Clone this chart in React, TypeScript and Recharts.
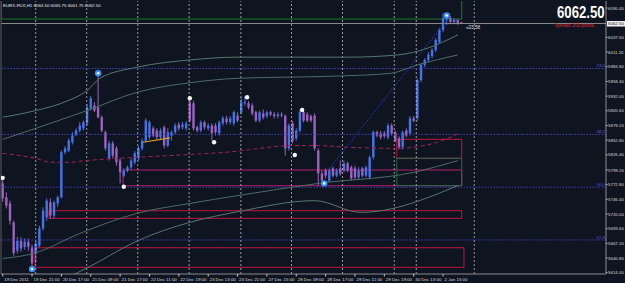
import { ComposedChart, Bar, Line, XAxis, YAxis, ReferenceLine, ReferenceArea, Scatter } from "recharts";

const opens = [
  5775, 5750, 5739, 5705, 5654, 5672, 5661, 5670, 5660, 5649,
  5663, 5694, 5714, 5741, 5717, 5739, 5750, 5831, 5834, 5849,
  5863, 5870, 5874, 5883, 5910, 5915, 5912, 5894, 5867, 5820,
  5847, 5838, 5816, 5789, 5798, 5804, 5813, 5820, 5838, 5852,
  5858, 5874, 5870, 5858, 5876, 5843, 5861, 5867, 5881, 5876,
  5874, 5921, 5919, 5876, 5870, 5885, 5874, 5879, 5879, 5865,
  5883, 5892, 5885, 5883, 5897, 5903, 5919, 5919, 5915, 5903,
  5888, 5901, 5896, 5903, 5899, 5896, 5899, 5896, 5838, 5883,
  5856, 5870, 5903, 5899, 5896, 5897, 5834, 5793, 5798, 5780,
  5802, 5789, 5802, 5798, 5811, 5804, 5802, 5786, 5802, 5789,
  5786, 5822, 5867, 5865, 5865, 5858, 5879, 5867, 5856, 5840,
  5870, 5865, 5892, 5892, 5961, 5988, 5997, 6004, 6015, 6029,
  6051, 6070, 6072, 6065, 6069, 6064.5,
];
const closes = [
  5748, 5735, 5708, 5650, 5672, 5658, 5670, 5661, 5631, 5667,
  5694, 5726, 5744, 5717, 5741, 5750, 5831, 5838, 5852, 5861,
  5870, 5879, 5885, 5912, 5928, 5906, 5894, 5870, 5838, 5847,
  5825, 5813, 5795, 5798, 5804, 5816, 5829, 5838, 5852, 5888,
  5885, 5861, 5858, 5870, 5843, 5867, 5867, 5879, 5874, 5881,
  5883, 5888, 5874, 5870, 5885, 5876, 5879, 5865, 5867, 5885,
  5892, 5885, 5892, 5903, 5888, 5921, 5921, 5912, 5901, 5888,
  5903, 5894, 5903, 5899, 5896, 5899, 5897, 5838, 5879, 5852,
  5870, 5903, 5888, 5888, 5888, 5838, 5793, 5780, 5789, 5798,
  5789, 5798, 5793, 5811, 5798, 5784, 5786, 5798, 5789, 5804,
  5822, 5867, 5861, 5858, 5860, 5879, 5865, 5852, 5840, 5867,
  5861, 5892, 5888, 5961, 5988, 5997, 6006, 6015, 6033, 6051,
  6072, 6074, 6065, 6069, 6063, 6062.5,
];
const highs = [
  5784, 5759, 5744, 5708, 5679, 5678, 5676, 5676, 5665, 5672,
  5699, 5732, 5748, 5748, 5744, 5753, 5834, 5842, 5856, 5867,
  5874, 5885, 5888, 5917, 5932, 5921, 5971, 5897, 5870, 5852,
  5851, 5842, 5820, 5802, 5807, 5820, 5833, 5842, 5856, 5892,
  5888, 5878, 5874, 5874, 5879, 5874, 5870, 5883, 5885, 5885,
  5887, 5924, 5923, 5879, 5888, 5888, 5883, 5883, 5883, 5888,
  5896, 5896, 5896, 5906, 5903, 5930, 5932, 5923, 5919, 5906,
  5906, 5908, 5906, 5906, 5903, 5903, 5903, 5899, 5883, 5887,
  5874, 5908, 5906, 5903, 5899, 5901, 5838, 5798, 5802, 5802,
  5805, 5802, 5816, 5816, 5814, 5807, 5807, 5804, 5805, 5807,
  5825, 5870, 5870, 5869, 5869, 5883, 5883, 5870, 5860, 5870,
  5874, 5896, 5896, 5964, 5991, 6000, 6011, 6018, 6036, 6054,
  6081, 6081, 6076, 6072, 6070, 6065.75,
];
const lows = [
  5742, 5730, 5701, 5645, 5649, 5652, 5656, 5654, 5622, 5632,
  5660, 5690, 5708, 5712, 5712, 5733, 5748, 5827, 5831, 5845,
  5860, 5867, 5870, 5879, 5906, 5903, 5892, 5867, 5834, 5816,
  5820, 5807, 5775, 5786, 5795, 5800, 5809, 5816, 5834, 5849,
  5854, 5858, 5854, 5854, 5838, 5840, 5852, 5863, 5870, 5872,
  5870, 5885, 5870, 5867, 5867, 5872, 5870, 5852, 5861, 5861,
  5879, 5881, 5881, 5879, 5885, 5899, 5915, 5908, 5897, 5885,
  5885, 5890, 5892, 5896, 5892, 5892, 5894, 5825, 5834, 5847,
  5852, 5867, 5885, 5885, 5885, 5834, 5771, 5773, 5784, 5777,
  5786, 5786, 5789, 5795, 5795, 5780, 5782, 5782, 5786, 5786,
  5782, 5818, 5858, 5854, 5856, 5854, 5861, 5849, 5836, 5836,
  5858, 5861, 5885, 5888, 5957, 5984, 5993, 6000, 6011, 6026,
  6047, 6060, 6061, 6061, 6060, 6061.75,
];

// envelope / band indicators, sampled at bar index
const bandUpperOuter = [
  { i: 0, v: 5894 }, { i: 9, v: 5906 }, { i: 17.5, v: 5923 }, { i: 23, v: 5942 },
  { i: 26.5, v: 5964 }, { i: 36.7, v: 5984 }, { i: 51, v: 5997 }, { i: 64, v: 6002 },
  { i: 80, v: 6002 }, { i: 94, v: 6002 }, { i: 107.6, v: 6006 }, { i: 115.7, v: 6018 }, { i: 124, v: 6042 },
];
const bandUpperInner = [
  { i: 0, v: 5854 }, { i: 23, v: 5906 }, { i: 36.7, v: 5939 }, { i: 51, v: 5956 },
  { i: 64, v: 5964 }, { i: 91, v: 5968 }, { i: 105.7, v: 5973 }, { i: 113, v: 5988 }, { i: 124, v: 6006 },
];
const bandLowerInner = [
  { i: 0, v: 5640 }, { i: 8.4, v: 5649 }, { i: 21, v: 5685 }, { i: 36.5, v: 5721 },
  { i: 51, v: 5739 }, { i: 64, v: 5753 }, { i: 86, v: 5775 }, { i: 112, v: 5795 }, { i: 124, v: 5816 },
];
const bandLowerOuter = [
  { i: 0, v: 5560 }, { i: 15.7, v: 5600 }, { i: 23, v: 5623 }, { i: 36.8, v: 5672 },
  { i: 51, v: 5705 }, { i: 64, v: 5724 }, { i: 85, v: 5744 }, { i: 97.6, v: 5723 }, { i: 124, v: 5771 },
];
const movingAvg = [
  { i: 0, v: 5829 }, { i: 9, v: 5820 }, { i: 13, v: 5813 }, { i: 18.4, v: 5813 },
  { i: 22.7, v: 5816 }, { i: 26.5, v: 5818 }, { i: 36.5, v: 5822 }, { i: 51, v: 5827 },
  { i: 64, v: 5833 }, { i: 70, v: 5838 }, { i: 78, v: 5843 }, { i: 86, v: 5843 },
  { i: 94, v: 5840 }, { i: 107.6, v: 5838 }, { i: 113, v: 5841 }, { i: 118.4, v: 5849 }, { i: 124, v: 5864 },
];

const whiteDots = [
  { i: 0, v: 5785 }, { i: 33, v: 5769 }, { i: 51, v: 5928 }, { i: 57.6, v: 5849 },
  { i: 66.6, v: 5930 }, { i: 79.6, v: 5826 }, { i: 81.6, v: 5907 },
];
const blueDots = [
  { i: 8, v: 5621 }, { i: 26, v: 5973 }, { i: 87.6, v: 5775 }, { i: 121, v: 6077 },
];

const timeTicks = [0, 8, 16, 24, 32, 40, 48, 56, 64, 72, 80, 88, 96, 104, 112, 120];
const timeLabels = [
  "19 Dec 2011", "19 Dec 21:00", "20 Dec 17:00", "21 Dec 09:00", "21 Dec 17:00", "22 Dec 11:00",
  "22 Dec 19:00", "23 Dec 13:00", "23 Dec 21:00", "27 Dec 15:00", "28 Dec 09:00", "28 Dec 17:00",
  "29 Dec 11:00", "29 Dec 19:00", "30 Dec 13:00", "2 Jan 15:00",
];
const priceTicks = [
  6090.4, 6037.6, 6011.2, 5984.8, 5958.4, 5932.0, 5905.6, 5879.2, 5852.8, 5826.4,
  5799.2, 5772.8, 5746.4, 5720.0, 5693.6, 5667.2, 5640.8, 5614.4,
];
const gridBars = [9, 22.9, 36.8, 50.8, 64.9, 78.7, 92.6, 106.7, 112.7, 128.5];
const fibLevels = [
  { v: 5981.7, label: "23.6" },
  { v: 5863.2, label: "38.2" },
  { v: 5768.2, label: "50.0" },
  { v: 5673.3, label: "61.8" },
];
const bid = 6062.5;

const BG = "#0e1420";
const UP = "#4574e6";
const DOWN = "#9c62bf";
const FONT = "'Liberation Sans', Arial, sans-serif";

const candles = opens.map((o, i) => ({
  i,
  open: o,
  close: closes[i],
  high: highs[i],
  low: lows[i],
  range: [lows[i], highs[i]],
}));

function Candle(props: any) {
  const { x, y, width, height, payload } = props;
  const { open, close, high, low } = payload;
  const top = Math.min(y, y + height);
  const h = Math.abs(height);
  const k = high === low ? 0 : h / (high - low);
  const yo = top + (high - open) * k;
  const yc = top + (high - close) * k;
  const col = close >= open ? UP : DOWN;
  const cx = x + width / 2;
  return (
    <g>
      <line x1={cx} x2={cx} y1={top} y2={top + h} stroke={col} strokeWidth={1} />
      <rect x={cx - 1.2} y={Math.min(yo, yc)} width={2.4} height={Math.max(Math.abs(yc - yo), 1)} fill={col} />
    </g>
  );
}

function TimeTick(props: any) {
  const { x, y, payload } = props;
  const idx = timeTicks.indexOf(payload.value);
  return (
    <g>
      <line x1={x} x2={x} y1={y} y2={y + 2.5} stroke="#c8c8c8" />
      <text x={x + 1.5} y={y + 6.8} fontSize={4.4} fill="#d8d8d8" fontFamily={FONT}>
        {timeLabels[idx]}
      </text>
    </g>
  );
}

function PriceTick(props: any) {
  const { x, y, payload } = props;
  return (
    <g>
      <line x1={x} x2={x + 1.5} y1={y} y2={y} stroke="#c8c8c8" />
      <text x={x + 2} y={y + 1.6} fontSize={4.4} fill="#d8d8d8" fontFamily={FONT}>
        {payload.value.toFixed(2)}
      </text>
    </g>
  );
}

export default function App() {
  document.body.style.margin = "0";
  document.body.style.background = BG;
  return (
    <div style={{ position: "relative", width: 625, height: 283, background: BG }}>
      <ComposedChart width={625} height={283} data={candles} margin={{ top: 1, right: 0, bottom: 0, left: 0 }}>
        <XAxis
          dataKey="i"
          type="number"
          domain={[-0.46, 164.4]}
          allowDataOverflow
          ticks={timeTicks}
          tick={<TimeTick />}
          tickLine={false}
          tickSize={0}
          tickMargin={0}
          height={9}
          axisLine={{ stroke: "#8a8a8a" }}
          interval={0}
        />
        <YAxis
          yAxisId="p"
          orientation="right"
          domain={[5612.1, 6103.0]}
          allowDataOverflow
          ticks={priceTicks}
          tick={<PriceTick />}
          tickLine={false}
          tickSize={0}
          tickMargin={0}
          width={19}
          axisLine={{ stroke: "#8a8a8a" }}
          interval={0}
        />
        <YAxis yAxisId="l" orientation="left" width={1} tick={false} tickLine={false} axisLine={{ stroke: "#5a5a5a" }} />

        {gridBars.map((g) => (
          <ReferenceLine key={"g" + g} yAxisId="p" x={g} stroke="#c4c4c4" strokeDasharray="2 2" strokeOpacity={0.75} ifOverflow="hidden" />
        ))}

        {fibLevels.map((f) => (
          <ReferenceLine
            key={f.label}
            yAxisId="p"
            y={f.v}
            stroke="#4040b8"
            strokeDasharray="1.5 1.5"
            label={{
              content: (p: any) => (
                <text x={p.viewBox.x + p.viewBox.width - 1} y={p.viewBox.y - 1} textAnchor="end" fontSize={4.4} fill="#5a5ad0" fontFamily={FONT}>
                  {f.label}
                </text>
              ),
            }}
          />
        ))}

        <ReferenceArea yAxisId="p" x1={-0.46} x2={125.1} y1={6070.6} y2={6120} fill="none" stroke="#1f7a2a" ifOverflow="hidden" />
        <ReferenceArea yAxisId="p" x1={32.8} x2={125.1} y1={5770.8} y2={5799.1} fill="none" stroke="#b81e6e" ifOverflow="visible" />
        <ReferenceArea yAxisId="p" x1={107.4} x2={125.1} y1={5820.2} y2={5854.3} fill="none" stroke="#c4163c" ifOverflow="visible" />
        <ReferenceArea yAxisId="p" x1={107.4} x2={125.1} y1={5771.0} y2={5820.2} fill="none" stroke="#2a6a4a" ifOverflow="visible" />
        <ReferenceArea yAxisId="p" x1={12.6} x2={125.1} y1={5712.2} y2={5725.9} fill="none" stroke="#c4163c" ifOverflow="visible" />
        <ReferenceArea yAxisId="p" x1={8.8} x2={125.7} y1={5624.1} y2={5659.3} fill="none" stroke="#c4163c" ifOverflow="visible" />

        <Line yAxisId="p" data={bandUpperOuter} dataKey="v" type="monotone" stroke="#56786f" strokeWidth={1} dot={false} isAnimationActive={false} />
        <Line yAxisId="p" data={bandUpperInner} dataKey="v" type="monotone" stroke="#4c6c66" strokeWidth={1} dot={false} isAnimationActive={false} />
        <Line yAxisId="p" data={bandLowerInner} dataKey="v" type="monotone" stroke="#4c6c66" strokeWidth={1} dot={false} isAnimationActive={false} />
        <Line yAxisId="p" data={bandLowerOuter} dataKey="v" type="monotone" stroke="#56786f" strokeWidth={1} dot={false} isAnimationActive={false} />
        <Line yAxisId="p" data={movingAvg} dataKey="v" type="monotone" stroke="#a3205c" strokeWidth={1} strokeDasharray="4 3" dot={false} isAnimationActive={false} />

        <ReferenceLine yAxisId="p" y={bid} stroke="#8c8c8c" />
        <ReferenceLine yAxisId="p" segment={[{ x: 88.6, y: 5798 }, { x: 121, y: 6068 }]} stroke="#2a3ad8" strokeDasharray="1.5 1.5" />
        <ReferenceLine yAxisId="p" segment={[{ x: 38.2, y: 5849 }, { x: 45.6, y: 5857 }]} stroke="#e0a020" strokeWidth={1.2} />

        <Bar yAxisId="p" dataKey="range" barSize={3} shape={<Candle />} isAnimationActive={false} />

        <Scatter
          yAxisId="p"
          data={whiteDots}
          dataKey="v"
          isAnimationActive={false}
          shape={(p: any) => <circle cx={p.cx} cy={p.cy} r={2.2} fill="#f4f4f4" />}
        />
        <Scatter
          yAxisId="p"
          data={blueDots}
          dataKey="v"
          isAnimationActive={false}
          shape={(p: any) => (
            <g>
              <circle cx={p.cx} cy={p.cy} r={3.2} fill="#2f8fff" />
              <circle cx={p.cx} cy={p.cy} r={1.3} fill="#ffffff" />
            </g>
          )}
        />
      </ComposedChart>

      <svg width={625} height={283} style={{ position: "absolute", left: 0, top: 0, pointerEvents: "none" }}>
        <text x={3} y={6.5} fontSize={4.4} fill="#e8e8e8" fontFamily={FONT}>
          EURX-FDX,H1  6064.50 6065.75 6061.75 6062.50
        </text>
        <g transform="translate(557,18.3) scale(1,1.3)">
          <text x={0} y={0} fontSize={13.2} fontWeight="bold" fill="#ffffff" fontFamily={FONT}>
            6062.50
          </text>
        </g>
        <text x={555} y={26.5} fontSize={4.6} fill="#e02424" fontFamily={FONT}>
          Spread: 200 points.
        </text>
        <text x={466} y={29} fontSize={4.6} fill="#e0e0e0" fontFamily={FONT}>
          {"\u00ab23:58"}
        </text>
        <rect x={607} y={21} width={18} height={5.5} fill="#f0f0f0" />
        <text x={608} y={25.3} fontSize={4.4} fill="#101010" fontFamily={FONT}>
          6062.50
        </text>
      </svg>
    </div>
  );
}
